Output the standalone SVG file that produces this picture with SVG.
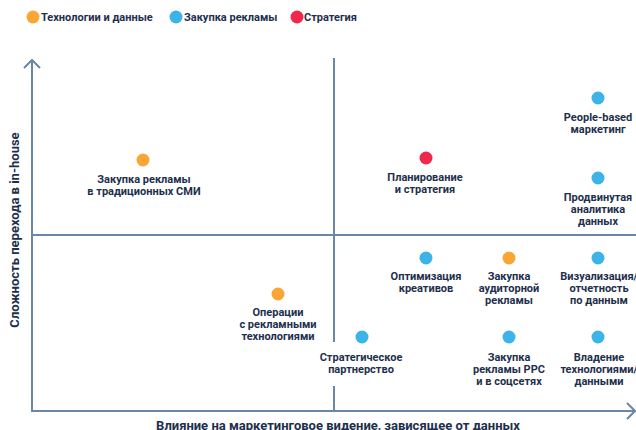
<svg xmlns="http://www.w3.org/2000/svg" width="636" height="430" viewBox="0 0 636 430">
<style>
text{font-family:Roboto,"Liberation Sans",sans-serif;font-weight:700;fill:#1d2f4d}
.lbl{font-size:11px;text-anchor:middle}
.leg{font-size:11px}
.ax{font-size:13px;text-anchor:middle}
.line{stroke:#6a87a3;stroke-width:2;fill:none}
.o{fill:#f9a634}.b{fill:#3cb4e7}.r{fill:#f0284b}
</style>
<rect width="636" height="430" fill="#fff"/>
<g id="legend">
<circle class="o" cx="33" cy="17" r="6.5"/><text class="leg" x="41" y="21">Технологии и данные</text>
<circle class="b" cx="176" cy="17" r="6.5"/><text class="leg" x="184" y="21">Закупка рекламы</text>
<circle class="r" cx="297" cy="17" r="6.5"/><text class="leg" x="304" y="21">Стратегия</text>
</g>
<g id="connectors">
<path class="line" d="M32 60 V411 H634"/>
<path class="line" d="M24 68 L32 60 L40 68"/>
<path class="line" d="M627 403 L635 411 L627 419"/>
<path class="line" d="M32 235 H636"/>
<path class="line" d="M334 58 V342 M334 386 V411"/>
</g>
<g id="axis-y"><text class="ax" transform="translate(19 230) rotate(-90)">Сложность перехода в in-house</text></g>
<g id="axis-x"><text class="ax" x="338" y="430">Влияние на маркетинговое видение, зависящее от данных</text></g>
<g id="n1"><circle class="o" cx="143" cy="160" r="6.5"/><text class="lbl" x="144" y="183">Закупка рекламы</text><text class="lbl" x="144" y="195">в традиционных СМИ</text></g>
<g id="n2"><circle class="r" cx="426" cy="158" r="6.5"/><text class="lbl" x="425" y="181">Планирование</text><text class="lbl" x="425" y="193">и стратегия</text></g>
<g id="n3"><circle class="b" cx="598" cy="98" r="6.5"/><text class="lbl" x="598" y="121">People-based</text><text class="lbl" x="598" y="133">маркетинг</text></g>
<g id="n4"><circle class="b" cx="598" cy="178" r="6.5"/><text class="lbl" x="598" y="201">Продвинутая</text><text class="lbl" x="598" y="213">аналитика</text><text class="lbl" x="598" y="225">данных</text></g>
<g id="n5"><circle class="b" cx="426" cy="258" r="6.5"/><text class="lbl" x="426" y="280">Оптимизация</text><text class="lbl" x="426" y="292">креативов</text></g>
<g id="n6"><circle class="o" cx="509" cy="258" r="6.5"/><text class="lbl" x="509" y="280">Закупка</text><text class="lbl" x="509" y="292">аудиторной</text><text class="lbl" x="509" y="304">рекламы</text></g>
<g id="n7"><circle class="b" cx="598" cy="258" r="6.5"/><text class="lbl" x="599" y="280">Визуализация/</text><text class="lbl" x="599" y="292">отчетность</text><text class="lbl" x="599" y="304">по данным</text></g>
<g id="n8"><circle class="o" cx="278" cy="294" r="6.5"/><text class="lbl" x="278" y="316">Операции</text><text class="lbl" x="278" y="328">с рекламными</text><text class="lbl" x="278" y="340">технологиями</text></g>
<g id="n9"><circle class="b" cx="362" cy="337" r="6.5"/><text class="lbl" x="361" y="361">Стратегическое</text><text class="lbl" x="361" y="373">партнерство</text></g>
<g id="n10"><circle class="b" cx="509" cy="337" r="6.5"/><text class="lbl" x="509" y="361">Закупка</text><text class="lbl" x="509" y="373">рекламы PPC</text><text class="lbl" x="509" y="385">и в соцсетях</text></g>
<g id="n11"><circle class="b" cx="598" cy="337" r="6.5"/><text class="lbl" x="599" y="361">Владение</text><text class="lbl" x="599" y="373">технологиями/</text><text class="lbl" x="599" y="385">данными</text></g>
</svg>
